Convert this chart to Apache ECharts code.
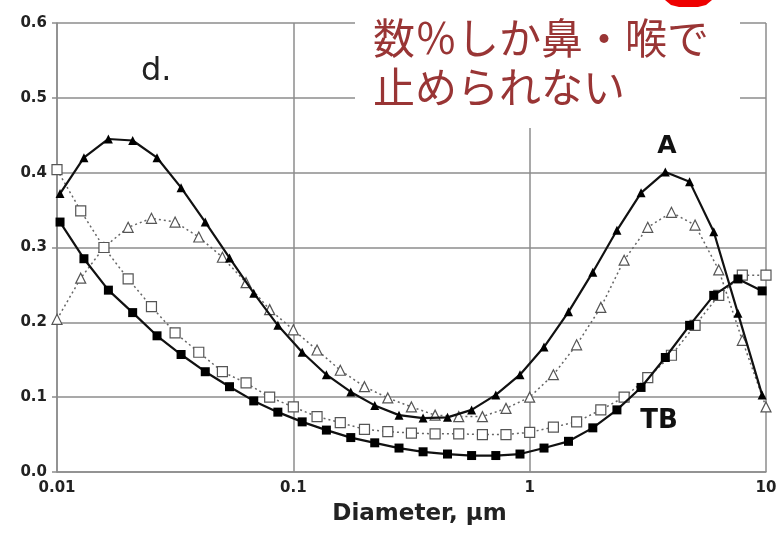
<!DOCTYPE html>
<html>
<head>
<meta charset="utf-8">
<script src="https://cdn.jsdelivr.net/npm/echarts@6/dist/echarts.min.js"></script>
<style>
  html, body { margin: 0; padding: 0; background: #fff; }
  #chart { width: 781px; height: 533px; }
</style>
</head>
<body>
<div id="chart"></div>
<script>
// Particle diameters (µm) for the open-marker series (0.1-decade steps)
const diamOpen = [0.01, 0.0126, 0.0158, 0.02, 0.0251, 0.0316, 0.0398, 0.0501, 0.0631, 0.0794,
  0.1, 0.126, 0.158, 0.2, 0.251, 0.316, 0.398, 0.501, 0.631, 0.794,
  1, 1.26, 1.58, 2, 2.51, 3.16, 3.98, 5.01, 6.31, 7.94, 10];
// Particle diameters (µm) for the filled-marker series
const diamFilled = [0.0103, 0.013, 0.0165, 0.0209, 0.0265, 0.0335, 0.0424, 0.0537, 0.068, 0.086,
  0.109, 0.138, 0.175, 0.221, 0.28, 0.354, 0.449, 0.568, 0.719, 0.91,
  1.15, 1.46, 1.85, 2.34, 2.96, 3.75, 4.75, 6.01, 7.61, 9.63];

// Deposition fractions
const seriesA = [0.372, 0.420, 0.445, 0.443, 0.420, 0.380, 0.334, 0.286, 0.239, 0.196,
  0.160, 0.130, 0.107, 0.089, 0.076, 0.072, 0.073, 0.083, 0.103, 0.130,
  0.167, 0.214, 0.267, 0.323, 0.373, 0.401, 0.388, 0.321, 0.212, 0.103];
const seriesOpenTri = [0.204, 0.259, 0.300, 0.327, 0.339, 0.334, 0.314, 0.287, 0.253, 0.217,
  0.190, 0.163, 0.136, 0.114, 0.099, 0.087, 0.076, 0.074, 0.074, 0.085,
  0.100, 0.130, 0.170, 0.220, 0.283, 0.327, 0.347, 0.330, 0.270, 0.176, 0.087];
const seriesOpenSq = [0.404, 0.349, 0.300, 0.258, 0.221, 0.186, 0.160, 0.134, 0.119, 0.100,
  0.087, 0.074, 0.066, 0.057, 0.054, 0.052, 0.051, 0.051, 0.050, 0.050,
  0.053, 0.060, 0.067, 0.083, 0.100, 0.126, 0.156, 0.196, 0.236, 0.263, 0.263];
const seriesTB = [0.334, 0.285, 0.243, 0.213, 0.182, 0.157, 0.134, 0.114, 0.095, 0.080,
  0.067, 0.056, 0.046, 0.039, 0.032, 0.027, 0.024, 0.022, 0.022, 0.024,
  0.032, 0.041, 0.059, 0.083, 0.113, 0.153, 0.196, 0.236, 0.258, 0.242];

const yTicks = [0, 0.1, 0.2, 0.3, 0.4, 0.5, 0.6];
const noteLines = ['数％しか鼻・喉で', '止められない'];

const pair = (xs, ys) => ys.map((v, i) => [xs[i], v]);

const gridColor = '#8c8c8c';
const chart = echarts.init(document.getElementById('chart'));

chart.setOption({
  animation: false,
  backgroundColor: '#fff',
  grid: { left: 57, right: 15, top: 23, bottom: 61 },
  xAxis: {
    type: 'log',
    logBase: 10,
    min: 0.01,
    max: 10,
    name: 'Diameter, µm',
    nameLocation: 'middle',
    nameGap: 31,
    nameTextStyle: {
      fontFamily: 'DejaVu Sans', fontWeight: 'bold', fontSize: 23, color: '#222',
      padding: [0, 0, 0, 16]
    },
    axisLine: { show: true, lineStyle: { color: gridColor, width: 1.5 } },
    axisTick: { show: false },
    axisLabel: {
      margin: 9,
      fontFamily: 'DejaVu Sans', fontWeight: 'bold', fontSize: 15, color: '#222'
    },
    splitLine: { show: true, lineStyle: { color: gridColor, width: 1.5 } },
    minorTick: { show: false }
  },
  yAxis: {
    type: 'value',
    min: yTicks[0],
    max: yTicks[yTicks.length - 1],
    interval: 0.1,
    axisLine: { show: true, lineStyle: { color: gridColor, width: 1.5 } },
    axisTick: { show: true, length: 5, lineStyle: { color: gridColor, width: 1.5 } },
    axisLabel: {
      margin: 10,
      fontFamily: 'DejaVu Sans', fontWeight: 'bold', fontSize: 15, color: '#222',
      formatter: v => v.toFixed(1)
    },
    splitLine: { show: true, lineStyle: { color: gridColor, width: 1.5 } }
  },
  series: [
    {
      type: 'line', name: 'open triangles',
      data: pair(diamOpen, seriesOpenTri),
      symbol: 'triangle', symbolSize: 10,
      itemStyle: { color: '#fff', borderColor: '#555', borderWidth: 1.2 },
      lineStyle: { color: '#666', width: 1.5, type: [2, 3] },
      z: 2
    },
    {
      type: 'line', name: 'open squares',
      data: pair(diamOpen, seriesOpenSq),
      symbol: 'rect', symbolSize: 10,
      itemStyle: { color: '#fff', borderColor: '#555', borderWidth: 1.2 },
      lineStyle: { color: '#666', width: 1.5, type: [2, 3] },
      z: 2
    },
    {
      type: 'line', name: 'A',
      data: pair(diamFilled, seriesA),
      symbol: 'triangle', symbolSize: 9,
      itemStyle: { color: '#000' },
      lineStyle: { color: '#111', width: 2.2 },
      z: 3
    },
    {
      type: 'line', name: 'TB',
      data: pair(diamFilled, seriesTB),
      symbol: 'rect', symbolSize: 9,
      itemStyle: { color: '#000' },
      lineStyle: { color: '#111', width: 2.2 },
      z: 3
    }
  ],
  graphic: [
    {
      type: 'text', x: 141, y: 72, z: 5,
      style: { text: 'd.', font: '32px "DejaVu Sans"', fill: '#222', align: 'left', verticalAlign: 'middle' }
    },
    {
      type: 'text', x: 667, y: 146, z: 5,
      style: { text: 'A', font: 'bold 25px "DejaVu Sans"', fill: '#111', align: 'center', verticalAlign: 'middle' }
    },
    {
      type: 'text', x: 659, y: 421, z: 5,
      style: { text: 'TB', font: 'bold 26px "DejaVu Sans"', fill: '#111', align: 'center', verticalAlign: 'middle' }
    },
    {
      type: 'rect', z: 10,
      shape: { x: 355, y: 0, width: 385, height: 128 },
      style: { fill: '#fff' }
    },
    {
      type: 'polygon', z: 11,
      shape: { points: [[665, 0], [712, 0], [706, 5], [698, 7], [679, 7], [671, 5]] },
      style: { fill: '#ee0000' }
    },
    {
      type: 'text', x: 373, y: 38, z: 12,
      style: { text: noteLines[0], font: '42px "Noto Sans CJK JP"', fill: '#993535', align: 'left', verticalAlign: 'middle' }
    },
    {
      type: 'text', x: 373, y: 87, z: 12,
      style: { text: noteLines[1], font: '42px "Noto Sans CJK JP"', fill: '#993535', align: 'left', verticalAlign: 'middle' }
    }
  ]
});
</script>
</body>
</html>
